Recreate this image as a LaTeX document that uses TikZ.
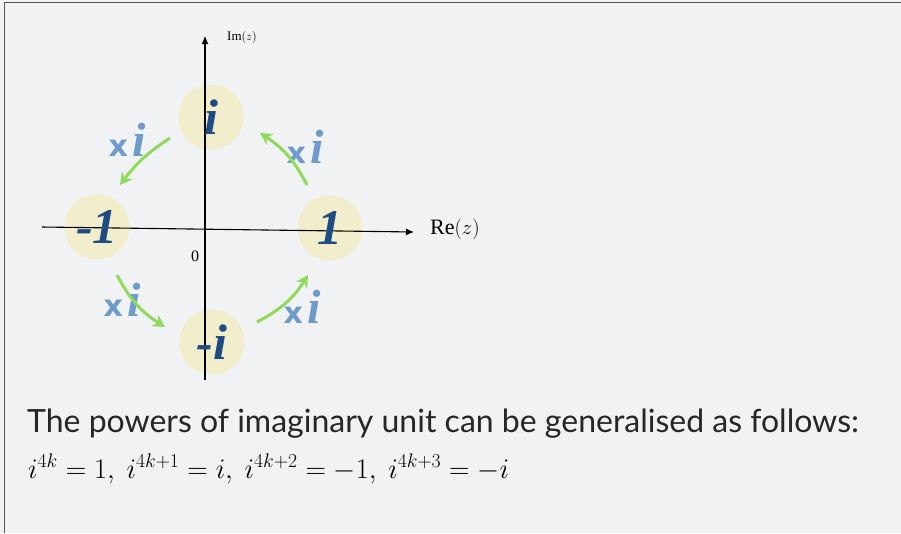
\documentclass[tikz,border=0pt]{standalone}
\usepackage{fontspec}
\setmainfont{Lato}
\newfontfamily\circfont{Liberation Serif}
\newfontfamily\xfont{DejaVu Sans}
\usetikzlibrary{arrows.meta}
\definecolor{bg}{HTML}{F1F2F4}
\definecolor{frame}{HTML}{555555}
\definecolor{disc}{HTML}{F2EECB}
\definecolor{dblue}{HTML}{1D4B82}
\definecolor{lblue}{HTML}{6F9BCB}
\definecolor{lgreen}{HTML}{8FDA5C}
\tikzset{
  discnode/.style={circle,fill=disc,minimum size=65pt,inner sep=0pt},
  disctext/.style={text=dblue,font=\circfont\bfseries\itshape\fontsize{50}{54}\selectfont},
  xilabel/.style={text=lblue,inner sep=0pt},
  garrow/.style={draw=lgreen,line width=3pt,-{Stealth[length=12pt,width=13pt]}},
  axisline/.style={draw=black,line width=1.1pt,-{Latex[length=8pt,width=7pt]}},
}
\newcommand{\xilab}{{\xfont\bfseries\fontsize{30}{34}\selectfont x}\kern4pt{\circfont\bfseries\itshape\fontsize{48}{50}\selectfont i}}
\begin{document}
\begin{tikzpicture}[x=1pt,y=-1pt]
\useasboundingbox (0,0) rectangle (901,533);
\fill[bg] (0,0) rectangle (901,533);
\draw[frame,line width=1.5pt] (4.5,533) -- (4.5,2.5) -- (901,2.5);
% discs
\node[discnode] (pi) at (211,117) {};
\node[discnode] (m1) at (97,227) {};
\node[discnode] (p1) at (330,228) {};
\node[discnode] (mi) at (212,342) {};
% multipliers
\node[xilabel] (xa) at (127,140) {\xilab};
\node[xilabel] (xb) at (305,147) {\xilab};
\node[xilabel] (xc) at (122,300) {\xilab};
\node[xilabel] (xd) at (302,307) {\xilab};
% green arrows
\coordinate (a1) at (170,138); \coordinate (a2) at (120,185);
\coordinate (b1) at (307,185); \coordinate (b2) at (260,133);
\coordinate (c1) at (117,275); \coordinate (c2) at (165,327);
\coordinate (d1) at (257,322); \coordinate (d2) at (308,275);
\draw[garrow] (a1) to[bend right=10] (a2);
\draw[garrow] (b1) to[bend right=15] (b2);
\draw[garrow] (c1) to[bend right=15] (c2);
\draw[garrow] (d1) to[bend right=15] (d2);
% axes
\coordinate (xs) at (42,227); \coordinate (xe) at (414,232);
\coordinate (ys) at (205,380); \coordinate (ye) at (205,36);
\draw[axisline] (xs) -- (xe);
\draw[axisline] (ys) -- (ye);
\node[font=\circfont\fontsize{22}{24}\selectfont,anchor=west,inner sep=0pt] (re) at (430,229) {Re$(z)$};
\node[font=\circfont\fontsize{13}{14}\selectfont,anchor=west,inner sep=0pt] (im) at (227,37) {Im$(z)$};
\node[font=\circfont\fontsize{16}{18}\selectfont,inner sep=0pt] (o) at (195,256) {0};
% disc labels
\node[disctext] (ti) at (pi) {i};
\node[disctext] (tm1) at (m1) {-1};
\node[disctext] (tp1) at (p1) {1};
\node[disctext] (tmi) at (mi) {-i};
% text
\node[anchor=west,inner sep=0pt,text=black!85,font=\fontsize{32}{36}\selectfont] (t1) at (27,424) {The powers of imaginary unit can be generalised as follows:};
\node[anchor=west,inner sep=0pt,font=\fontsize{24}{28}\selectfont] (t2) at (28,469) {\scalebox{1.14}{$i^{4k}=1,\ i^{4k+1}=i,\ i^{4k+2}=-1,\ i^{4k+3}=-i$}};
\end{tikzpicture}
\end{document}
